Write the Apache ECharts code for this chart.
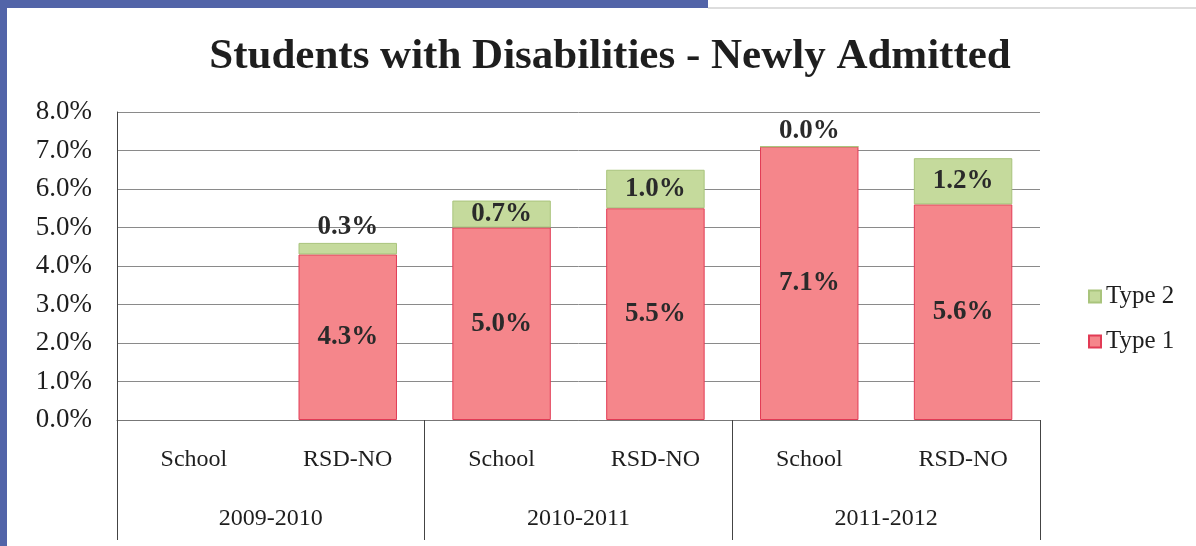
<!DOCTYPE html>
<html>
<head>
<meta charset="utf-8">
<script src="https://cdn.jsdelivr.net/npm/echarts@6/dist/echarts.min.js"></script>
<style>
html,body{margin:0;padding:0;background:#fff;}
#chart{width:1196px;height:546px;}
</style>
</head>
<body>
<div id="chart"></div>
<script>
var subCategories = ['School', 'RSD-NO', 'School', 'RSD-NO', 'School', 'RSD-NO'];
var yearCategories = ['2009-2010', '2010-2011', '2011-2012'];
var type1Values = [null, 4.3, 5.0, 5.5, 7.1, 5.6];
var type2Values = [null, 0.3, 0.7, 1.0, 0.0, 1.2];
var yTicks = [0, 1, 2, 3, 4, 5, 6, 7, 8];
var titleText = 'Students with Disabilities - Newly Admitted';

var FONT = '"Liberation Serif", "DejaVu Serif", serif';

var chart = echarts.init(document.getElementById('chart'));

function pct(v) { return v.toFixed(1) + '%'; }

var type2Data = type2Values.map(function (v) {
  if (v === null) return null;
  var item = { value: v };
  if (v < 0.5) {
    item.label = { position: 'top', distance: 2 };
  }
  return item;
});

chart.setOption({
  animation: false,
  backgroundColor: '#ffffff',
  title: {
    text: titleText,
    left: 605,
    textAlign: 'center',
    top: 30,
    textStyle: { fontFamily: FONT, fontWeight: 'bold', fontSize: 43, color: '#1e1e1e' }
  },
  graphic: [
    { type: 'rect', shape: { x: 0, y: 0, width: 708, height: 8 }, style: { fill: '#5264a8' }, silent: true },
    { type: 'rect', shape: { x: 0, y: 0, width: 7, height: 546 }, style: { fill: '#5264a8' }, silent: true },
    { type: 'line', shape: { x1: 708, y1: 8, x2: 1196, y2: 8 }, style: { stroke: '#bbbbbb', lineWidth: 1 }, silent: true }
  ],
  legend: {
    orient: 'vertical',
    left: 1083,
    top: 279,
    itemWidth: 12,
    itemHeight: 12,
    itemGap: 20,
    icon: 'rect',
    data: ['Type 2', 'Type 1'],
    textStyle: { fontFamily: FONT, fontSize: 25, color: '#1e1e1e' }
  },
  grid: { left: 117, right: 156, top: 112, bottom: 126, containLabel: false },
  xAxis: [
    {
      type: 'category',
      data: subCategories,
      position: 'bottom',
      axisLine: { show: true, lineStyle: { color: '#777', width: 1 } },
      axisTick: { show: false },
      axisLabel: { margin: 28, fontFamily: FONT, fontSize: 24, color: '#1e1e1e' }
    },
    {
      type: 'category',
      data: yearCategories,
      position: 'bottom',
      axisLine: { show: false },
      axisTick: { show: true, alignWithLabel: false, interval: 0, length: 120, lineStyle: { color: '#444', width: 1 } },
      axisLabel: { margin: 87, fontFamily: FONT, fontSize: 24, color: '#1e1e1e' }
    }
  ],
  yAxis: {
    type: 'value',
    min: yTicks[0],
    max: yTicks[yTicks.length - 1],
    interval: 1,
    axisLine: { show: true, lineStyle: { color: '#444', width: 1 } },
    axisTick: { show: false },
    splitLine: { show: true, lineStyle: { color: '#8a8a8a', width: 1 } },
    axisLabel: { formatter: function (v) { return pct(v); }, margin: 25, fontFamily: FONT, fontSize: 27, color: '#1e1e1e' }
  },
  series: [
    {
      name: 'Type 1',
      type: 'bar',
      stack: 'total',
      xAxisIndex: 0,
      barWidth: '64%',
      data: type1Values,
      itemStyle: { color: '#f5868b', borderColor: '#e23b55', borderWidth: 1 },
      label: {
        show: true, position: 'inside',
        formatter: function (p) { return pct(p.value); },
        fontFamily: FONT, fontWeight: 'bold', fontSize: 27, color: '#2a2a2a'
      }
    },
    {
      name: 'Type 2',
      type: 'bar',
      stack: 'total',
      xAxisIndex: 0,
      barWidth: '64%',
      data: type2Data,
      itemStyle: { color: '#c5da9c', borderColor: '#a9c47c', borderWidth: 1 },
      label: {
        show: true, position: 'inside',
        formatter: function (p) { return pct(p.value); },
        fontFamily: FONT, fontWeight: 'bold', fontSize: 27, color: '#2a2a2a'
      }
    }
  ]
});
</script>
</body>
</html>
